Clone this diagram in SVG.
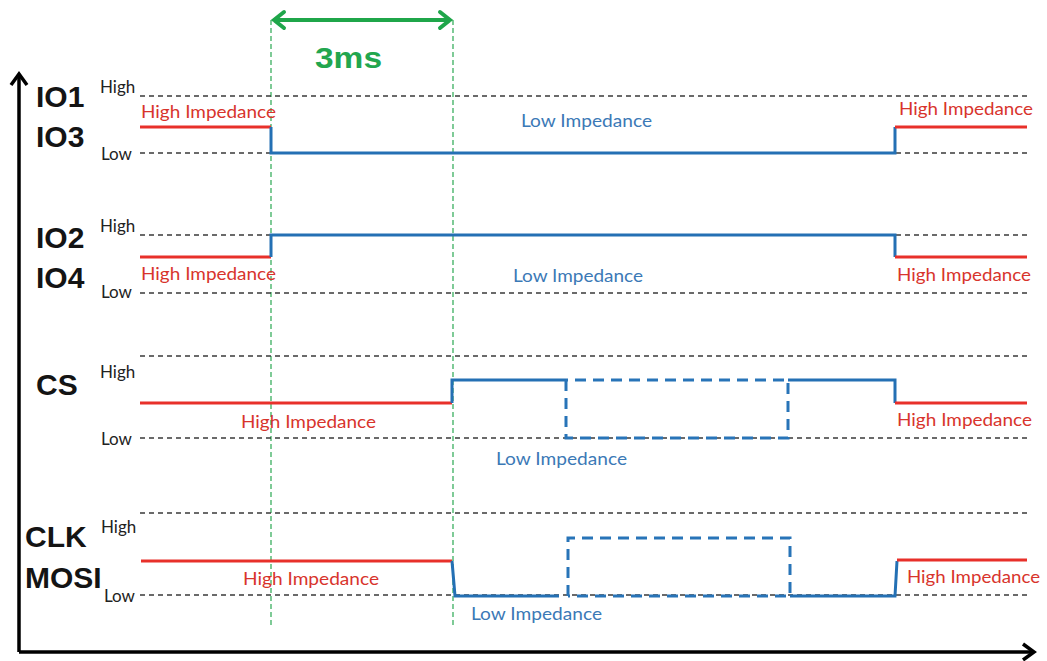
<svg xmlns="http://www.w3.org/2000/svg" width="1047" height="661" viewBox="0 0 1047 661">
<style>
.grid{stroke:#3a3a3a;stroke-width:1.4;stroke-dasharray:5 4;fill:none}
.guide{stroke:#2aa852;stroke-width:1.2;stroke-dasharray:5 3;fill:none}
.hz{stroke:#e8302a;stroke-width:3;fill:none}
.lz{stroke:#2470b4;stroke-width:3;fill:none}
.lzd{stroke:#2874b8;stroke-width:3;fill:none;stroke-dasharray:11 7}
.sig{font-family:"Liberation Sans",Arial,sans-serif;font-weight:bold;font-size:30px;fill:#141414}
.lvl{font-family:Lato,"Liberation Sans",sans-serif;font-size:17px;fill:#222}
.rt{font-family:Lato,"Liberation Sans",sans-serif;font-size:17px;fill:#d8342c}
.bt{font-family:Lato,"Liberation Sans",sans-serif;font-size:17px;fill:#3b79b6}
.axis{stroke:#000;stroke-width:3.5;fill:none}
</style>
<rect width="1047" height="661" fill="#fff"/>

<g id="axes">
<path class="axis" d="M19,652 V74"/>
<path class="axis" d="M11,85 L19,74 L27,85"/>
<path class="axis" d="M19,652 H1033"/>
<path class="axis" d="M1023,644 L1034,652 L1023,660"/>
</g>

<g id="timing-3ms">
<path class="guide" d="M271,20 V625"/>
<path class="guide" d="M453,20 V625"/>
<path d="M274,20 H450 M284,12 L274,20 L284,28 M440,12 L450,20 L440,28" stroke="#1fa64a" stroke-width="4" fill="none" stroke-linecap="round"/>
<text x="348.5" y="68" text-anchor="middle" font-family="Liberation Sans,Arial,sans-serif" font-weight="bold" font-size="30" fill="#22a64e" textLength="67" lengthAdjust="spacingAndGlyphs">3ms</text>
</g>

<g id="io1-io3">
<path class="grid" d="M140,96 H1030 M140,153 H1030"/>
<text class="sig" x="36" y="107">IO1</text>
<text class="sig" x="36" y="147">IO3</text>
<text class="lvl" x="100" y="93">High</text>
<text class="lvl" x="101" y="160">Low</text>
<path class="hz" d="M140,127 H271"/>
<path class="lz" d="M271,127 V153 H895 V127"/>
<path class="hz" d="M895,127 H1027"/>
<text class="rt" x="141" y="118" textLength="135" lengthAdjust="spacingAndGlyphs">High Impedance</text>
<text class="bt" x="521" y="127" textLength="131" lengthAdjust="spacingAndGlyphs">Low Impedance</text>
<text class="rt" x="899" y="115" textLength="134" lengthAdjust="spacingAndGlyphs">High Impedance</text>
</g>

<g id="io2-io4">
<path class="grid" d="M140,235 H1030 M140,293 H1030"/>
<text class="sig" x="36" y="248">IO2</text>
<text class="sig" x="36" y="288">IO4</text>
<text class="lvl" x="100" y="232">High</text>
<text class="lvl" x="101" y="298">Low</text>
<path class="hz" d="M140,257 H271"/>
<path class="lz" d="M271,257 V235 H895 V257"/>
<path class="hz" d="M895,257 H1027"/>
<text class="rt" x="141" y="280" textLength="135" lengthAdjust="spacingAndGlyphs">High Impedance</text>
<text class="bt" x="513" y="282" textLength="130" lengthAdjust="spacingAndGlyphs">Low Impedance</text>
<text class="rt" x="897" y="281" textLength="134" lengthAdjust="spacingAndGlyphs">High Impedance</text>
</g>

<g id="cs">
<path class="grid" d="M140,356 H1030 M140,438 H1030"/>
<text class="sig" x="36" y="395">CS</text>
<text class="lvl" x="100" y="378">High</text>
<text class="lvl" x="101" y="445">Low</text>
<path class="hz" d="M140,403 H452"/>
<path class="lz" d="M452,403 V380 H566"/>
<path class="lzd" d="M566,380 V438 H788 V380 H566"/>
<path class="lz" d="M788,380 H895 V403"/>
<path class="hz" d="M895,403 H1027"/>
<text class="rt" x="241" y="428" textLength="135" lengthAdjust="spacingAndGlyphs">High Impedance</text>
<text class="bt" x="496" y="465" textLength="131" lengthAdjust="spacingAndGlyphs">Low Impedance</text>
<text class="rt" x="897" y="426" textLength="135" lengthAdjust="spacingAndGlyphs">High Impedance</text>
</g>

<g id="clk-mosi">
<path class="grid" d="M140,513 H1030 M140,595 H1030"/>
<text class="sig" x="25" y="547">CLK</text>
<text class="sig" x="25" y="588">MOSI</text>
<text class="lvl" x="101" y="533">High</text>
<text class="lvl" x="104" y="602">Low</text>
<path class="hz" d="M141,561 H452"/>
<path class="lz" d="M452,561 L455,596 H559"/>
<path class="lzd" d="M568,596 V538 H790 V596 H568"/>
<path class="lz" d="M790,596 H895 L897,561"/>
<path class="hz" d="M897,560 H1027"/>
<text class="rt" x="243" y="585" textLength="136" lengthAdjust="spacingAndGlyphs">High Impedance</text>
<text class="bt" x="471" y="620" textLength="131" lengthAdjust="spacingAndGlyphs">Low Impedance</text>
<text class="rt" x="907" y="583" textLength="133" lengthAdjust="spacingAndGlyphs">High Impedance</text>
</g>
</svg>
